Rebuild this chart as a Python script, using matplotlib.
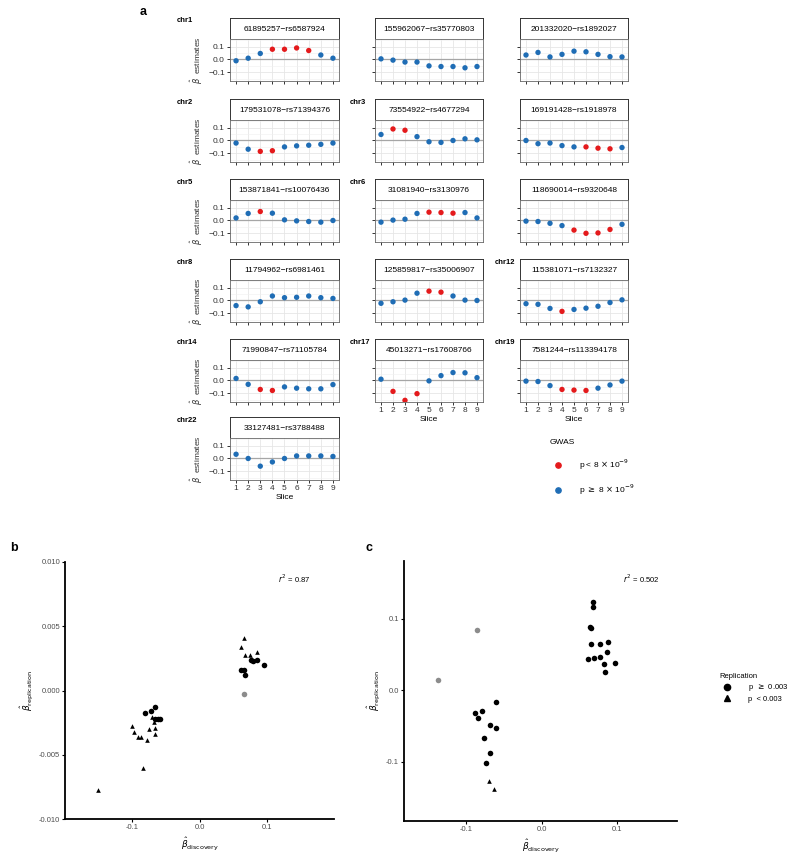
import numpy as np
import matplotlib
matplotlib.use("Agg")
import matplotlib.pyplot as plt
from matplotlib.lines import Line2D

plt.rcParams['font.family'] = ['Liberation Sans', 'DejaVu Sans']
plt.rcParams['mathtext.fontset'] = 'dejavusans'

# ---- panel a data: beta estimates per slice ----
slices = [1, 2, 3, 4, 5, 6, 7, 8, 9]
snp_labels = ['61895257\u2212rs6587924', '155962067\u2212rs35770803', '201332020\u2212rs1892027',
              '179531078\u2212rs71394376', '73554922\u2212rs4677294', '169191428\u2212rs1918978',
              '153871841\u2212rs10076436', '31081940\u2212rs3130976', '118690014\u2212rs9320648',
              '11794962\u2212rs6981461', '125859817\u2212rs35006907', '115381071\u2212rs7132327',
              '71990847\u2212rs71105784', '45013271\u2212rs17608766', '7581244\u2212rs113394178',
              '33127481\u2212rs3788488']
chroms = ['chr1', 'chr1', 'chr1', 'chr2', 'chr3', 'chr3', 'chr5', 'chr6', 'chr6',
          'chr8', 'chr8', 'chr12', 'chr14', 'chr17', 'chr19', 'chr22']
estimates = [
    [-0.010, 0.010, 0.047, 0.080, 0.080, 0.090, 0.070, 0.035, 0.010],
    [0.005, -0.005, -0.020, -0.020, -0.050, -0.055, -0.055, -0.065, -0.055],
    [0.035, 0.055, 0.020, 0.040, 0.065, 0.060, 0.040, 0.022, 0.020],
    [-0.020, -0.068, -0.085, -0.080, -0.050, -0.042, -0.037, -0.030, -0.020],
    [0.047, 0.090, 0.080, 0.030, -0.010, -0.015, 0.000, 0.013, 0.005],
    [0.000, -0.025, -0.020, -0.040, -0.050, -0.050, -0.060, -0.065, -0.055],
    [0.020, 0.055, 0.070, 0.057, 0.005, -0.003, -0.008, -0.013, 0.000],
    [-0.013, 0.003, 0.010, 0.055, 0.065, 0.062, 0.057, 0.062, 0.020],
    [-0.005, -0.008, -0.022, -0.040, -0.075, -0.100, -0.097, -0.070, -0.030],
    [-0.040, -0.050, -0.010, 0.035, 0.022, 0.025, 0.035, 0.022, 0.016],
    [-0.022, -0.010, 0.003, 0.057, 0.073, 0.065, 0.035, 0.003, 0.000],
    [-0.025, -0.030, -0.062, -0.085, -0.070, -0.060, -0.045, -0.016, 0.005],
    [0.016, -0.030, -0.070, -0.078, -0.050, -0.060, -0.065, -0.065, -0.032],
    [0.010, -0.085, -0.155, -0.103, -0.003, 0.038, 0.062, 0.060, 0.022],
    [-0.005, -0.008, -0.040, -0.070, -0.075, -0.078, -0.060, -0.035, -0.005],
    [0.033, 0.000, -0.060, -0.027, 0.000, 0.020, 0.020, 0.020, 0.016],
]
# 1 = GWAS p < 8e-9
gwas_sig = [
    [0, 0, 0, 1, 1, 1, 1, 0, 0],
    [0, 0, 0, 0, 0, 0, 0, 0, 0],
    [0, 0, 0, 0, 0, 0, 0, 0, 0],
    [0, 0, 1, 1, 0, 0, 0, 0, 0],
    [0, 1, 1, 0, 0, 0, 0, 0, 0],
    [0, 0, 0, 0, 0, 1, 1, 1, 0],
    [0, 0, 1, 0, 0, 0, 0, 0, 0],
    [0, 0, 0, 0, 1, 1, 1, 0, 0],
    [0, 0, 0, 0, 1, 1, 1, 1, 0],
    [0, 0, 0, 0, 0, 0, 0, 0, 0],
    [0, 0, 0, 0, 1, 1, 0, 0, 0],
    [0, 0, 0, 1, 0, 0, 0, 0, 0],
    [0, 0, 1, 1, 0, 0, 0, 0, 0],
    [0, 1, 1, 1, 0, 0, 0, 0, 0],
    [0, 0, 0, 1, 1, 1, 0, 0, 0],
    [0, 0, 0, 0, 0, 0, 0, 0, 0],
]

# ---- panel b data ----
b_circ_x = [-0.066, -0.072, -0.081, -0.066, -0.058, -0.062,
            0.062, 0.0655, 0.068, 0.077, 0.080, 0.0854, 0.0958]
b_circ_y = [-0.00125, -0.00156, -0.00174, -0.00220, -0.00220, -0.00223,
            0.00161, 0.00161, 0.00117, 0.00239, 0.00229, 0.00234, 0.00197]
b_tri_x = [-0.151, -0.0834, -0.100, -0.0978, -0.0918, -0.0868, -0.0784, -0.0744,
           -0.0665, -0.0665, -0.067, -0.071,
           0.0655, 0.062, 0.067, 0.0744, 0.0854]
b_tri_y = [-0.00771, -0.00605, -0.00273, -0.00325, -0.00364, -0.00364, -0.00384, -0.00299,
           -0.00294, -0.00338, -0.00249, -0.00208,
           0.00410, 0.00335, 0.00275, 0.00275, 0.00300]
b_grey_x = [0.0655]
b_grey_y = [-0.00026]

# ---- panel c data ----
c_circ_x = [0.0678, 0.0674, 0.0639, 0.0648, 0.0656, 0.077, 0.0877, 0.0859, 0.0617, 0.069,
            0.077, 0.082, 0.0969, 0.0833,
            -0.0604, -0.0885, -0.0793, -0.0846, -0.0678, -0.0608, -0.0758, -0.0683, -0.0731]
c_circ_y = [0.123, 0.116, 0.0884, 0.0865, 0.0647, 0.065, 0.068, 0.053, 0.0437, 0.0456,
            0.0465, 0.0367, 0.038, 0.0251,
            -0.0167, -0.0316, -0.0288, -0.0386, -0.0484, -0.0535, -0.067, -0.0884, -0.1014]
c_tri_x = [-0.0696, -0.063]
c_tri_y = [-0.1274, -0.1377]
c_grey_x = [-0.137, -0.0859]
c_grey_y = [0.014, 0.0837]

RED = '#e41a1c'
BLUE = '#1f6db5'
GREY = '#8c8c8c'

W, H = 800, 857
fig = plt.figure(figsize=(W / 100, H / 100), dpi=100)


def px_axes(x0, y0, x1, y1):
    return fig.add_axes([x0 / W, 1 - y1 / H, (x1 - x0) / W, (y1 - y0) / H])


# ---------------- panel a ----------------
col_x = [(230, 339), (375, 483), (520, 628)]
row_top = [18, 99, 179, 259, 339, 417]
strip_h, plot_h = 21, 42

for i, lab in enumerate(snp_labels):
    r, c = divmod(i, 3)
    x0, x1 = col_x[c]
    top = row_top[r]

    sax = px_axes(x0, top, x1, top + strip_h)
    sax.set_xticks([])
    sax.set_yticks([])
    for sp in sax.spines.values():
        sp.set_color('#333333')
        sp.set_linewidth(0.7)
    sax.text(0.5, 0.45, lab, ha='center', va='center', fontsize=6, transform=sax.transAxes)

    ax = px_axes(x0, top + strip_h, x1, top + strip_h + plot_h)
    cols = [RED if s else BLUE for s in gwas_sig[i]]
    ax.axhline(0, color='#a6a6a6', lw=0.9, zorder=2)
    ax.scatter(slices, estimates[i], c=cols, s=15, linewidths=0, zorder=3)
    ax.set_xlim(0.5, 9.5)
    ax.set_ylim(-0.168, 0.16)
    ax.set_xticks(slices)
    ax.set_yticks([-0.1, 0.0, 0.1])
    ax.set_yticks([-0.15, -0.05, 0.05, 0.15], minor=True)
    ax.grid(which='major', color='#e6e6e6', lw=0.6)
    ax.grid(which='minor', axis='y', color='#f0f0f0', lw=0.4)
    ax.set_axisbelow(True)
    for sp in ax.spines.values():
        sp.set_color('#666666')
        sp.set_linewidth(0.6)
    ax.tick_params(which='major', length=2.2, width=0.7, labelsize=6, pad=1.5, colors='#333333')
    ax.tick_params(which='minor', length=0)
    if c == 0:
        ax.set_yticklabels(['\u22120.1', '0.0', '0.1'])
        ax.set_ylabel(r'$\hat{\beta}$  estimates', fontsize=6, labelpad=2, color='#333333')
    else:
        ax.set_yticklabels([])
    if (r == 5 and c == 0) or (r == 4 and c > 0):
        ax.set_xticklabels([str(s) for s in slices])
        ax.set_xlabel('Slice', fontsize=6, labelpad=1)
    else:
        ax.set_xticklabels([])

    if c == 0 or chroms[i] != chroms[i - 1]:
        lx = x0 - 53 if c == 0 else x0 - 25
        fig.text(lx / W, 1 - (top + 3) / H, chroms[i], fontsize=5.5, fontweight='bold',
                 ha='left', va='center')

gwas_handles = [Line2D([], [], ls='', marker='o', color=RED, markersize=3.8),
                Line2D([], [], ls='', marker='o', color=BLUE, markersize=3.8)]
leg = fig.legend(gwas_handles, [r'p < 8 $\times$ 10$^{-9}$', r'p $\geq$ 8 $\times$ 10$^{-9}$'],
                 title='GWAS', loc='upper left', bbox_to_anchor=(546 / W, 1 - 436 / H),
                 frameon=False, fontsize=6, title_fontsize=6, labelspacing=1.3,
                 handletextpad=1.6, borderaxespad=0)
leg._legend_box.align = 'left'

fig.text(140 / W, 1 - 12 / H, 'a', fontsize=9, fontweight='bold', va='center')


# ---------------- panels b, c ----------------
def style_scatter_axes(ax):
    for side in ['top', 'right']:
        ax.spines[side].set_visible(False)
    for side in ['left', 'bottom']:
        ax.spines[side].set_linewidth(1.3)
    ax.tick_params(length=2, width=0.8, labelsize=5.5, pad=1.5, labelcolor='#4d4d4d')


axb = px_axes(65, 562, 334, 819)
axb.scatter(b_circ_x, b_circ_y, marker='o', s=16, c='black', linewidths=0)
axb.scatter(b_tri_x, b_tri_y, marker='^', s=11, c='black', linewidths=0)
axb.scatter(b_grey_x, b_grey_y, marker='o', s=16, c=GREY, linewidths=0)
axb.set_xlim(-0.2, 0.2)
axb.set_ylim(-0.010, 0.010)
axb.set_xticks([-0.1, 0.0, 0.1])
axb.set_xticklabels(['-0.1', '0.0', '0.1'])
axb.set_yticks([-0.010, -0.005, 0.0, 0.005, 0.010])
axb.set_yticklabels(['-0.010', '-0.005', '0.000', '0.005', '0.010'])
style_scatter_axes(axb)
axb.set_xlabel(r'$\hat{\beta}_{\mathrm{discovery}}$', fontsize=6.5, labelpad=3)
axb.set_ylabel(r'$\hat{\beta}_{\mathrm{replication}}$', fontsize=6.5, labelpad=3)
axb.text(278 / W, 1 - 579 / H, r'$r^2$ = 0.87', fontsize=5.5, transform=fig.transFigure, va='center')
fig.text(10 / W, 1 - 548 / H, 'b', fontsize=9, fontweight='bold', va='center')

axc = px_axes(404, 561, 677, 821)
axc.scatter(c_circ_x, c_circ_y, marker='o', s=16, c='black', linewidths=0)
axc.scatter(c_tri_x, c_tri_y, marker='^', s=11, c='black', linewidths=0)
axc.scatter(c_grey_x, c_grey_y, marker='o', s=16, c=GREY, linewidths=0)
axc.set_xlim(-0.182, 0.179)
axc.set_ylim(-0.183, 0.181)
axc.set_xticks([-0.1, 0.0, 0.1])
axc.set_xticklabels(['-0.1', '0.0', '0.1'])
axc.set_yticks([-0.1, 0.0, 0.1])
axc.set_yticklabels(['-0.1', '0.0', '0.1'])
style_scatter_axes(axc)
axc.set_xlabel(r'$\hat{\beta}_{\mathrm{discovery}}$', fontsize=6.5, labelpad=3)
axc.set_ylabel(r'$\hat{\beta}_{\mathrm{replication}}$', fontsize=6.5, labelpad=3)
axc.text(623 / W, 1 - 579 / H, r'$r^2$ = 0.502', fontsize=5.5, transform=fig.transFigure, va='center')
fig.text(366 / W, 1 - 548 / H, 'c', fontsize=9, fontweight='bold', va='center')

rep_handles = [Line2D([], [], ls='', marker='o', color='black', markersize=4.5),
               Line2D([], [], ls='', marker='^', color='black', markersize=4.5)]
leg2 = fig.legend(rep_handles, [r'p  $\geq$ 0.003', 'p  < 0.003'], title='Replication',
                  loc='upper left', bbox_to_anchor=(716 / W, 1 - 670 / H), frameon=False,
                  fontsize=5.5, title_fontsize=5.5, labelspacing=0.3, handletextpad=1.8,
                  borderaxespad=0)
leg2._legend_box.align = 'left'

fig.savefig('out.png', dpi=100)
